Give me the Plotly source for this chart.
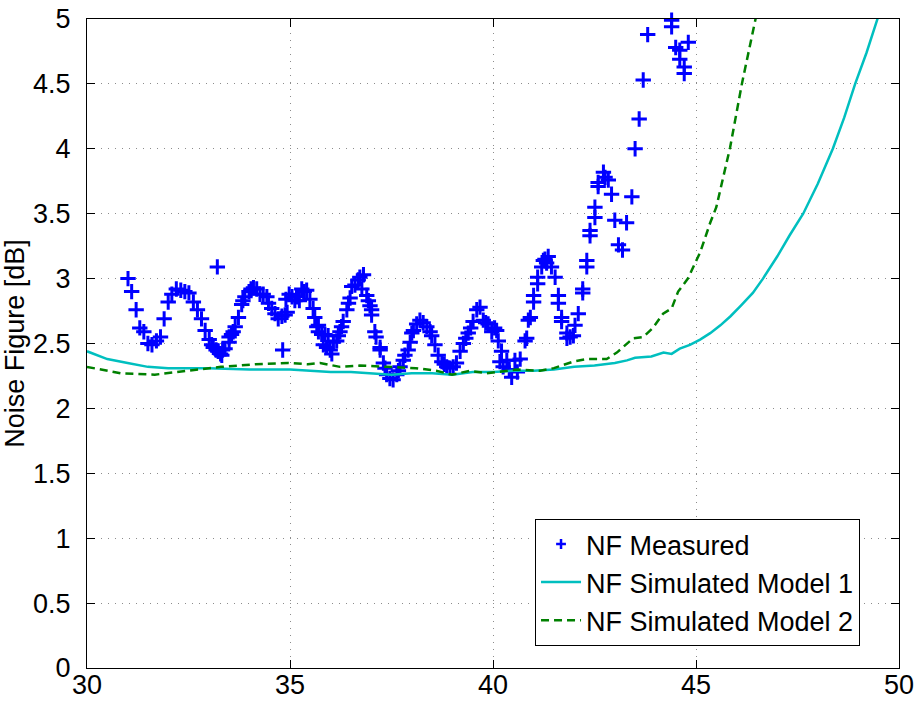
import plotly.graph_objects as go

# Measured noise figure (frequency in GHz, NF in dB)
freq_meas = [
    31.01, 31.10, 31.21, 31.30, 31.40, 31.50, 31.60, 31.71, 31.81, 31.90,
    32.00, 32.09, 32.20, 32.31, 32.41, 32.51, 32.62, 32.72, 32.82, 32.91,
    33.01, 33.07, 33.11, 33.18, 33.21, 33.23, 33.29, 33.32, 33.34, 33.40,
    33.50, 33.50, 33.56, 33.60, 33.65, 33.73, 33.81, 33.84, 33.89, 33.99,
    34.04, 34.10, 34.18, 34.26, 34.34, 34.43, 34.47, 34.55, 34.63, 34.71,
    34.80, 34.82, 34.88, 34.90, 34.93, 34.98, 35.05, 35.12, 35.16, 35.23,
    35.29, 35.35, 35.41, 35.49, 35.57, 35.61, 35.66, 35.70, 35.70, 35.78,
    35.82, 35.86, 35.90, 35.94, 35.99, 36.03, 36.07, 36.15, 36.19, 36.23,
    36.27, 36.31, 36.40, 36.44, 36.48, 36.52, 36.60, 36.68, 36.72, 36.77,
    36.81, 36.89, 36.93, 36.97, 37.01, 37.01, 37.09, 37.12, 37.22, 37.22,
    37.30, 37.34, 37.38, 37.46, 37.54, 37.63, 37.67, 37.71, 37.79, 37.83,
    37.91, 37.96, 38.00, 38.04, 38.12, 38.20, 38.28, 38.37, 38.45, 38.49,
    38.57, 38.65, 38.74, 38.80, 38.86, 38.94, 39.02, 39.10, 39.19, 39.27,
    39.33, 39.39, 39.45, 39.51, 39.60, 39.68, 39.76, 39.82, 39.88, 39.97,
    40.04, 40.09, 40.13, 40.17, 40.21, 40.25, 40.34, 40.40, 40.46, 40.54,
    40.60, 40.67, 40.79, 40.83, 40.87, 40.92, 41.00, 41.00, 41.10, 41.10,
    41.20, 41.24, 41.28, 41.32, 41.36, 41.44, 41.53, 41.61, 41.61, 41.69,
    41.69, 41.82, 41.82, 41.90, 41.98, 42.02, 42.10, 42.21, 42.21, 42.31,
    42.31, 42.39, 42.39, 42.51, 42.51, 42.59, 42.59, 42.72, 42.76, 42.84,
    42.92, 43.00, 43.09, 43.19, 43.29, 43.42, 43.50, 43.60, 43.70, 43.81,
    44.40, 44.40, 44.50, 44.60, 44.60, 44.71, 44.71, 44.81,
]
nf_meas = [
    3.00, 2.90, 2.76, 2.62, 2.59, 2.50, 2.49, 2.52, 2.55, 2.69,
    2.82, 2.88, 2.92, 2.91, 2.90, 2.89, 2.82, 2.76, 2.69, 2.60,
    2.53, 2.49, 2.47, 2.45, 3.09, 2.44, 2.42, 2.41, 2.45, 2.46,
    2.51, 2.55, 2.57, 2.59, 2.63, 2.70, 2.80, 2.83, 2.86, 2.90,
    2.92, 2.93, 2.92, 2.88, 2.88, 2.86, 2.81, 2.77, 2.73, 2.69,
    2.71, 2.45, 2.72, 2.84, 2.74, 2.88, 2.86, 2.83, 2.86, 2.83,
    2.92, 2.90, 2.91, 2.84, 2.77, 2.70, 2.63, 2.64, 2.59, 2.57,
    2.49, 2.57, 2.47, 2.56, 2.45, 2.42, 2.51, 2.52, 2.56, 2.59,
    2.63, 2.67, 2.76, 2.81, 2.85, 2.94, 2.95, 2.99, 3.01, 2.92,
    3.03, 2.87, 2.83, 2.79, 2.76, 2.72, 2.59, 2.55, 2.47, 2.45,
    2.35, 2.31, 2.26, 2.23, 2.22, 2.26, 2.29, 2.32, 2.37, 2.41,
    2.45, 2.51, 2.58, 2.60, 2.65, 2.68, 2.66, 2.63, 2.59, 2.56,
    2.49, 2.41, 2.36, 2.34, 2.32, 2.31, 2.32, 2.35, 2.44, 2.50,
    2.54, 2.58, 2.62, 2.67, 2.76, 2.78, 2.68, 2.66, 2.65, 2.59,
    2.62, 2.60, 2.52, 2.36, 2.44, 2.32, 2.37, 2.30, 2.24, 2.37,
    2.28, 2.38, 2.52, 2.54, 2.68, 2.70, 2.87, 2.82, 3.01, 2.96,
    3.09, 3.14, 3.15, 3.12, 3.17, 3.09, 3.01, 2.87, 2.81, 2.70,
    2.67, 2.58, 2.54, 2.55, 2.56, 2.64, 2.73, 2.92, 2.89, 3.14,
    3.09, 3.37, 3.33, 3.55, 3.47, 3.74, 3.71, 3.82, 3.78, 3.76,
    3.65, 3.45, 3.26, 3.22, 3.43, 3.63, 4.00, 4.23, 4.53, 4.88,
    4.99, 4.94, 4.78, 4.76, 4.69, 4.63, 4.58, 4.82,
]

# Simulated noise figure, model 1
freq_sim1 = [
    30.0, 30.5, 31.0, 31.5, 32.0, 33.0, 34.0, 35.0, 35.5, 36.0,
    36.5, 37.0, 37.5, 38.0, 38.5, 39.0, 39.5, 40.0, 40.5, 41.0,
    41.5, 42.0, 42.5, 43.0, 43.3, 43.5, 43.9, 44.2, 44.4, 44.6,
    44.85, 45.1, 45.35, 45.6, 45.85, 46.1, 46.4, 46.65, 47.0, 47.3,
    47.64, 48.0, 48.37, 48.65, 48.92, 49.2, 49.46, 49.5,
]
nf_sim1 = [
    2.44, 2.38, 2.35, 2.32, 2.31, 2.31, 2.30, 2.30, 2.29, 2.28,
    2.28, 2.27, 2.26, 2.27, 2.27, 2.26, 2.28, 2.28, 2.29, 2.29,
    2.30, 2.32, 2.33, 2.35, 2.37, 2.39, 2.40, 2.43, 2.42, 2.46,
    2.49, 2.53, 2.58, 2.64, 2.71, 2.79, 2.89, 3.00, 3.17, 3.33,
    3.50, 3.73, 4.00, 4.24, 4.50, 4.74, 4.99, 5.03,
]

# Simulated noise figure, model 2
freq_sim2 = [
    30.0, 30.5, 30.84, 31.67, 32.5, 33.3, 34.14, 34.95, 35.44, 35.74,
    36.23, 36.72, 37.4, 38.1, 38.6, 38.99, 39.43, 39.85, 40.6, 41.16,
    41.5, 41.97, 42.3, 42.8, 43.05, 43.45, 43.7, 43.94, 44.19, 44.4,
    44.56, 44.8, 45.1, 45.35, 45.5, 45.84, 46.13, 46.45, 46.5,
]
nf_sim2 = [
    2.32, 2.29, 2.27, 2.26, 2.29, 2.32, 2.34, 2.35, 2.34, 2.35,
    2.32, 2.33, 2.32, 2.31, 2.29, 2.26, 2.29, 2.27, 2.30, 2.29,
    2.31, 2.36, 2.38, 2.38, 2.43, 2.54, 2.55, 2.62, 2.73, 2.77,
    2.90, 3.00, 3.20, 3.43, 3.55, 4.01, 4.50, 4.99, 5.05,
]

x_ticks = [30, 35, 40, 45, 50]
y_ticks = [0, 0.5, 1, 1.5, 2, 2.5, 3, 3.5, 4, 4.5, 5]

FONT = "Liberation Sans, Arial, Helvetica, sans-serif"
BLUE = "#0000ff"

fig = go.Figure()
# measured points (legend entry drawn by a small-marker proxy below)
fig.add_trace(go.Scatter(
    x=freq_meas, y=nf_meas, mode="markers", name="NF Measured",
    marker=dict(symbol="cross-thin", size=11, color=BLUE,
                line=dict(color=BLUE, width=3)),
    cliponaxis=False, showlegend=False, legendrank=1,
))
fig.add_trace(go.Scatter(
    x=[None], y=[None], mode="markers", name="NF Measured",
    marker=dict(symbol="cross-thin", size=7, color=BLUE,
                line=dict(color=BLUE, width=2.5)),
    legendrank=1,
))
fig.add_trace(go.Scatter(
    x=freq_sim1, y=nf_sim1, mode="lines", name="NF Simulated Model 1",
    line=dict(color="#00bfbf", width=2.5), legendrank=2,
))
fig.add_trace(go.Scatter(
    x=freq_sim2, y=nf_sim2, mode="lines", name="NF Simulated Model 2",
    line=dict(color="#008000", width=2.5, dash="8px,5px"), legendrank=3,
))

axis_common = dict(
    showline=True, linecolor="black", linewidth=1.2, mirror="ticks",
    ticks="inside", ticklen=8, tickwidth=1, tickcolor="black",
    showgrid=True, gridcolor="#8c8c8c", gridwidth=1, griddash="1px,6px",
    zeroline=False, automargin=False,
    tickfont=dict(family=FONT, size=27, color="black"),
)

fig.update_xaxes(range=[30, 50], tickvals=x_ticks, ticklabelstandoff=-8, **axis_common)
fig.update_yaxes(
    range=[0, 5], tickvals=y_ticks, ticklabelstandoff=10,
    title=dict(text="Noise Figure [dB]", font=dict(family=FONT, size=27, color="black"),
               standoff=6),
    **axis_common,
)

fig.update_layout(
    width=917, height=704,
    margin=dict(l=87, r=18, t=19, b=36),
    paper_bgcolor="white", plot_bgcolor="white",
    font=dict(family=FONT, size=27, color="black"),
    showlegend=True,
    legend=dict(
        x=0.952, y=0.034, xanchor="right", yanchor="bottom",
        bgcolor="white", bordercolor="black", borderwidth=1,
        font=dict(family=FONT, size=27, color="black"),
        tracegroupgap=0, itemwidth=40,
    ),
)

fig.write_html("out.html")
